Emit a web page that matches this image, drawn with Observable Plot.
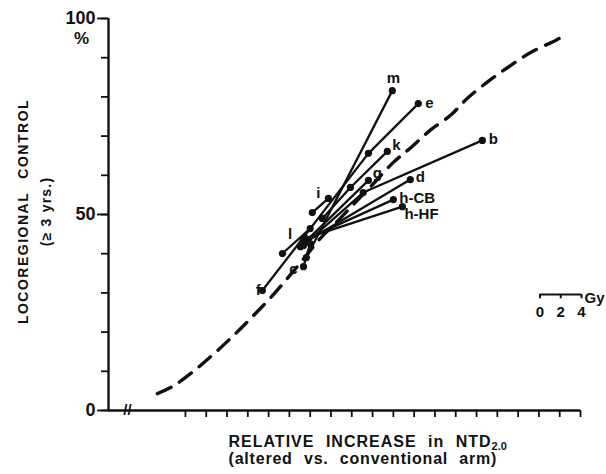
<!DOCTYPE html>
<html><head><meta charset="utf-8">
<script src="https://cdn.jsdelivr.net/npm/d3@7"></script>
<script src="https://cdn.jsdelivr.net/npm/@observablehq/plot@0.6"></script>
<style>
body{margin:0;background:#fff;}
svg{display:block;}
</style></head><body><div id="chart"></div>
<script>
// Dashed dose-response curve (x = NTD in Gy, arbitrary origin; y = % locoregional control)
const curveX = [-2.7,-1.25,0.77,2.88,4.81,6.54,8.37,9.71,11.25,12.98,14.7,16.35,18.1,20.0,21.7,23.5,25.5,27.1,29.0,31.0,33.2,35.6,36.3];
const curveY = [4.3,6.1,10.0,14.8,19.6,24.2,29.3,33.4,38.3,43.9,48.5,53.1,57.9,63.3,67.1,71.4,75.3,79.6,83.7,87.5,91.3,94.4,95.4];

// Trial segments (conventional arm -> altered arm)
const segTrial = ["f","e","m","k","k","g","b","b","d","h-CB","h-HF","i","l","c"];
const segX1 = [7.40,17.6,11.63,13.17,15.87,11.06,11.35,17.1,11.63,11.35,11.54,12.2,9.33,12.0];
const segY1 = [30.6,65.6,39.0,49.0,56.9,41.8,42.1,55.6,43.1,43.4,43.9,50.5,40.05,42.6];
const segX2 = [17.6,22.4,19.9,15.87,19.42,17.6,17.1,28.56,21.63,20.0,20.87,13.75,12.0,11.35];
const segY2 = [65.6,78.3,81.6,56.9,66.1,58.7,55.6,68.9,58.9,53.8,52.0,54.1,46.4,36.7];

// Trial labels and the point each label sits next to
const labelText = ["m","e","k","g","b","d","h-CB","h-HF","i","l","c","f"];
const labelX = [19.9,22.4,19.42,17.6,28.56,21.63,20.0,20.87,13.75,12.0,11.35,7.40];
const labelY = [81.6,78.3,66.1,58.7,68.9,58.9,53.8,52.0,54.1,46.4,36.7,30.6];

// Axis ticks
const xTicks = d3.range(0, 39, 2);
const yMinorTicks = d3.range(0, 101, 10);
const yMajorTicks = [0, 50, 100];
const scaleBarTicks = [0, 2, 4];

// Texts
const yTitle = "LOCOREGIONAL CONTROL";
const ySub = "(\u2265 3 yrs.)";
const xTitle = "RELATIVE INCREASE in NTD";
const xTitleSub = "2.0";
const xSub = "(altered vs. conventional arm)";

// ---- layout / style (not data) ----
const xDomain = [-7.4, 38];
const scaleBarStart = 34.1, scaleBarLevel = 29.6;
const labelOffsets = {
  "m": [1, -12, "middle"], "e": [11, 0, "middle"], "k": [9, -6, "middle"],
  "g": [9, -7, "middle"], "b": [11, -1, "middle"], "d": [10, -2, "middle"],
  "h-CB": [6, -1, "start"], "h-HF": [2, 8, "start"], "i": [-10, -5, "middle"],
  "l": [-20, 6, "middle"], "c": [-10, 3, "middle"], "f": [-4, 0, "middle"]
};
const ink = "#111";

const curve = curveX.map((x, i) => ({x, y: curveY[i]}));
const segs = segTrial.map((t, i) => ({t, x1: segX1[i], y1: segY1[i], x2: segX2[i], y2: segY2[i]}));
const ptMap = new Map();
segs.forEach(s => { ptMap.set(s.x1 + "," + s.y1, {x: s.x1, y: s.y1}); ptMap.set(s.x2 + "," + s.y2, {x: s.x2, y: s.y2}); });
const pts = [...ptMap.values()];
const labels = labelText.map((t, i) => ({t, x: labelX[i], y: labelY[i]}));

const bold = {fontWeight: "bold", fill: ink};
const centered = {textAnchor: "middle", lineAnchor: "middle"};

const chart = Plot.plot({
  width: 606, height: 474,
  marginLeft: 108, marginRight: 26, marginTop: 18, marginBottom: 64,
  x: {domain: xDomain, axis: null},
  y: {domain: [0, 100], axis: null},
  style: {fontFamily: "'Liberation Sans', Arial, Helvetica, sans-serif", background: "#fff", color: ink},
  marks: [
    Plot.ruleX([xDomain[0]], {y1: 0, y2: 100, stroke: ink, strokeWidth: 2.4}),
    Plot.ruleY([0], {stroke: ink, strokeWidth: 2.4}),
    Plot.axisY(yMinorTicks, {tickSize: 7, tickFormat: () => "", stroke: ink, strokeWidth: 1.8}),
    Plot.axisY(yMajorTicks, {tickSize: 11, tickPadding: 2, fontSize: 18, ...bold, stroke: ink, strokeWidth: 1.8, label: null}),
    Plot.axisX(xTicks, {tickSize: 7, tickFormat: () => "", stroke: ink, strokeWidth: 1.8, label: null}),
    Plot.text(["%"], {frameAnchor: "top-left", ...centered, dx: -27, dy: 20, fontSize: 17, ...bold}),
    Plot.text(["//"], {frameAnchor: "bottom-left", ...centered, dx: 19, dy: 0, fontSize: 15, ...bold}),
    // dashed curve
    Plot.line(curve, {x: "x", y: "y", curve: "catmull-rom", stroke: ink, strokeWidth: 3.4, strokeDasharray: "15,10"}),
    // trial segments and points
    Plot.link(segs, {x1: "x1", y1: "y1", x2: "x2", y2: "y2", stroke: ink, strokeWidth: 2.3}),
    Plot.dot(pts, {x: "x", y: "y", r: 3.6, fill: ink}),
    ...labels.map(l => Plot.text([l], {x: "x", y: "y", text: "t", dx: labelOffsets[l.t][0], dy: labelOffsets[l.t][1],
      textAnchor: labelOffsets[l.t][2], fontSize: 15, ...bold})),
    // scale bar
    Plot.ruleY([scaleBarLevel], {x1: scaleBarStart, x2: scaleBarStart + 4, stroke: ink, strokeWidth: 2}),
    Plot.ruleX(scaleBarTicks, {x: d => scaleBarStart + d, y1: scaleBarLevel, y2: scaleBarLevel - 1.1, stroke: ink, strokeWidth: 2}),
    Plot.text(scaleBarTicks, {x: d => scaleBarStart + d, y: scaleBarLevel, dy: 18, text: d => d, fontSize: 15, ...bold}),
    Plot.text(["Gy"], {x: scaleBarStart + 4, y: scaleBarLevel, dx: 3, dy: 4, textAnchor: "start", fontSize: 15, ...bold}),
    // axis titles
    Plot.text([yTitle], {frameAnchor: "left", ...centered, rotate: -90, dx: -85, dy: -3, fontSize: 14, ...bold}),
    Plot.text([ySub], {frameAnchor: "left", ...centered, rotate: -90, dx: -62, dy: -3, fontSize: 14, ...bold}),
    Plot.text([xTitle], {frameAnchor: "bottom-left", textAnchor: "start", lineAnchor: "middle", dx: 120, dy: 31, fontSize: 16, ...bold}),
    Plot.text([xSub], {frameAnchor: "bottom-left", textAnchor: "start", lineAnchor: "middle", dx: 120, dy: 48, fontSize: 16, ...bold})
  ]
});
document.getElementById("chart").appendChild(chart);

// typographic touches: subscript and spacing
const svg = d3.select(chart);
svg.selectAll("text").each(function() {
  const t = this.textContent;
  const s = d3.select(this);
  if (t === xTitle) {
    s.style("letter-spacing", "1px").style("word-spacing", "6px");
    s.append("tspan").attr("font-size", 11).attr("dy", 3).style("letter-spacing", "0px").text(xTitleSub);
  } else if (t === xSub) {
    s.style("letter-spacing", "0.8px").style("word-spacing", "6px");
  } else if (t === yTitle) {
    s.style("letter-spacing", "1.5px").style("word-spacing", "8px");
  } else if (t === ySub) {
    s.style("letter-spacing", "1.2px");
  }
});
</script></body></html>
